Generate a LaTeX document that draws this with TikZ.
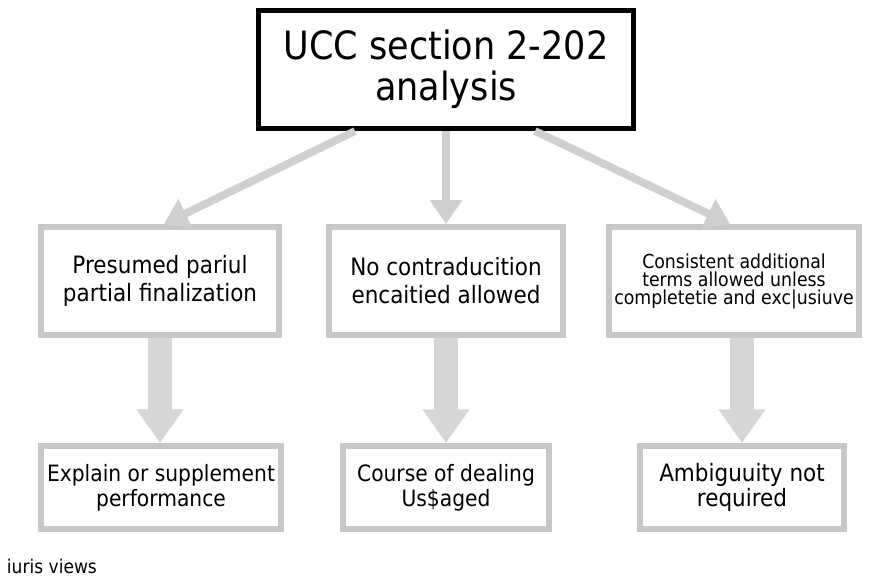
\documentclass[tikz,border=0pt]{standalone}
\usepackage{fontspec}
\setmainfont{DejaVu Sans}[FakeStretch=0.9]
\usetikzlibrary{arrows.meta}

\begin{document}
\begin{tikzpicture}[
		x=0.025cm, y=-0.025cm,
		topbox/.style={draw=black, line width=3.6pt, align=center, inner sep=0pt, fill=white, font=\fontsize{27.7}{29}\selectfont},
		graybox/.style={draw=black!22, line width=4.2pt, align=center, inner sep=0pt, fill=white},
		midtext/.style={font=\fontsize{17}{20}\selectfont},
		lowtext/.style={font=\fontsize{16}{18}\selectfont},
		thinarrow/.style={draw=black!19, line width=5.5pt, -{Triangle[width=22pt,length=17pt]}},
		fatarrow/.style={draw=black!16, line width=17pt, -{Triangle[width=32pt,length=24pt]}}
	]
		\useasboundingbox[fill=white] (0,0) rectangle (880,576);

		\node[topbox, minimum width=9.375cm, minimum height=2.95cm] (ucc) at (446,69.5) {UCC section 2-202\\analysis};

		\node[graybox, midtext, minimum width=5.95cm, minimum height=2.7cm] (presumed) at (160,281) {Presumed pariul\\partial finalization};
		\node[graybox, midtext, minimum width=5.85cm, minimum height=2.7cm] (nocontra) at (446,281) {No contraducition\\encaitied allowed};
		\node[graybox, font=\fontsize{13.7}{12.8}\selectfont, minimum width=6.25cm, minimum height=2.7cm] (consistent) at (734,281) {Consistent additional\\terms allowed unless\\completetie and exc|usiuve};

		\node[graybox, lowtext, minimum width=6cm, minimum height=2.075cm] (explain) at (161,487.5) {Explain or supplement\\performance};
		\node[graybox, lowtext, minimum width=5.15cm, minimum height=2.075cm] (course) at (446,487.5) {Course of dealing\\Us\$aged};
		\node[graybox, lowtext, font=\fontsize{17}{18}\selectfont, minimum width=5.1cm, minimum height=2.075cm] (ambig) at (742,487.5) {Ambiguuity not\\required};

		\draw[thinarrow] ([xshift=-2.275cm]ucc.south) -- ([xshift=0.1cm]presumed.north);
		\draw[thinarrow] (ucc.south) -- (nocontra.north);
		\draw[thinarrow] ([xshift=2.225cm]ucc.south) -- ([xshift=-0.1cm]consistent.north);

		\draw[fatarrow] (presumed.south) -- (presumed.south |- explain.north);
		\draw[fatarrow] (nocontra.south) -- (course.north);
		\draw[fatarrow] (ambig.north |- consistent.south) -- (ambig.north);

		\node[anchor=base west, font=\fontsize{13.5}{16}\selectfont] (views) at (2,573) {iuris views};
	\end{tikzpicture}
\end{document}
